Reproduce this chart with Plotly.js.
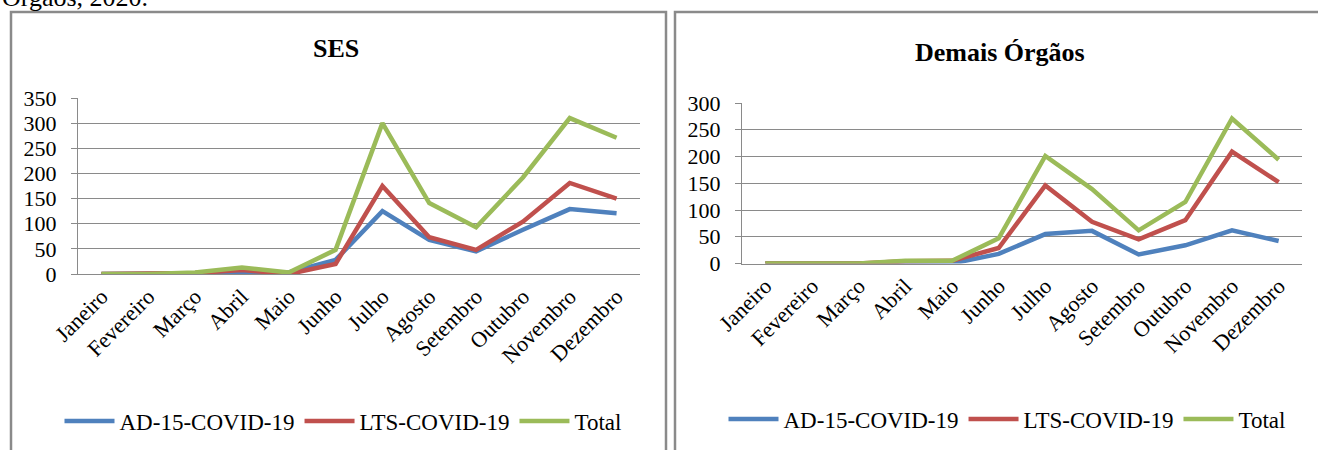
<!DOCTYPE html>
<html>
<head>
<meta charset="utf-8">
<script src="https://cdn.plot.ly/plotly-3.0.1.min.js"></script>
<style>
  html, body { margin: 0; padding: 0; background: #fff; }
  #chart { width: 1318px; height: 450px; }
</style>
</head>
<body>
<div id="chart"></div>
<script>
// ---- data ----
const months = ["Janeiro", "Fevereiro", "Março", "Abril", "Maio", "Junho", "Julho", "Agosto", "Setembro", "Outubro", "Novembro", "Dezembro"];
const seriesNames = ["AD-15-COVID-19", "LTS-COVID-19", "Total"];

const sesAD15 = [0, 0, 1, 5, 3, 28, 125, 68, 45, 88, 129, 121];
const sesLTS = [0, 0, 2, 8, 0, 20, 175, 73, 48, 104, 181, 150];
const sesTotal = [0, 0, 3, 13, 3, 48, 300, 141, 93, 192, 310, 271];

const demaisAD15 = [0, 0, 0, 1, 0, 18, 55, 61, 17, 34, 62, 42];
const demaisLTS = [0, 0, 0, 4, 5, 29, 146, 78, 45, 81, 209, 152];
const demaisTotal = [0, 0, 0, 5, 5, 47, 201, 139, 62, 115, 271, 194];

const sesTicks = [0, 50, 100, 150, 200, 250, 300, 350];
const demaisTicks = [0, 50, 100, 150, 200, 250, 300];

const titles = ["SES", "Demais Órgãos"];
const captionTail = "Órgãos, 2020.";

// ---- styles ----
const W = 1318, H = 450;
const colors = ["#4F81BD", "#C0504D", "#9BBB59"];
const serif = "Liberation Serif, Times New Roman, serif";
const gridColor = "#8a8a8a";
const fs = 22;
const px = v => v / W;
const py = v => 1 - v / H;

function mk(name, y, i, xa, ya, leg) {
  return {
    x: months, y: y, name: name, type: "scatter", mode: "lines",
    xaxis: xa, yaxis: ya, legend: leg,
    line: { color: colors[i], width: 4.5 },
    hoverinfo: "skip"
  };
}

const traces = [
  mk(seriesNames[0], sesAD15, 0, "x", "y", "legend"),
  mk(seriesNames[1], sesLTS, 1, "x", "y", "legend"),
  mk(seriesNames[2], sesTotal, 2, "x", "y", "legend"),
  mk(seriesNames[0], demaisAD15, 0, "x2", "y2", "legend2"),
  mk(seriesNames[1], demaisLTS, 1, "x2", "y2", "legend2"),
  mk(seriesNames[2], demaisTotal, 2, "x2", "y2", "legend2")
];

function xAxis(domain, anchor) {
  return {
    domain: domain, anchor: anchor, type: "category",
    range: [-0.5, months.length - 0.5],
    tickangle: -45, showgrid: false, zeroline: false,
    showline: true, linecolor: gridColor, linewidth: 1,
    ticks: "", fixedrange: true,
    tickfont: { family: serif, size: fs, color: "#000" }
  };
}
function yAxis(domain, anchor, ticks) {
  return {
    domain: domain, anchor: anchor,
    range: [0, ticks[ticks.length - 1]],
    tickmode: "array", tickvals: ticks, ticktext: ticks.map(String),
    showgrid: true, gridcolor: gridColor, gridwidth: 1,
    zeroline: false, showline: true, linecolor: gridColor, linewidth: 1,
    ticks: "outside", ticklen: 6, tickcolor: gridColor,
    ticklabelstandoff: 10, fixedrange: true,
    tickfont: { family: serif, size: fs, color: "#000" }
  };
}

const legendBase = {
  orientation: "h", xanchor: "center", yanchor: "middle",
  font: { family: serif, size: 23, color: "#000" },
  itemwidth: 50, tracegroupgap: 0, bgcolor: "rgba(0,0,0,0)"
};

const layout = {
  width: W, height: H,
  margin: { l: 0, r: 0, t: 0, b: 0 },
  paper_bgcolor: "#fff", plot_bgcolor: "#fff",
  showlegend: true,
  xaxis: xAxis([px(78), px(640)], "y"),
  yaxis: yAxis([py(274), py(98)], "x", sesTicks),
  xaxis2: xAxis([px(742), px(1302)], "y2"),
  yaxis2: yAxis([py(263.5), py(103)], "x2", demaisTicks),
  legend: Object.assign({}, legendBase, { x: px(343), y: py(421) }),
  legend2: Object.assign({}, legendBase, { x: px(1007), y: py(419) }),
  shapes: [
    { type: "rect", xref: "paper", yref: "paper",
      x0: px(11), x1: px(666), y0: -0.2, y1: py(12),
      line: { color: "#8a8a8a", width: 2.5 }, layer: "below" },
    { type: "rect", xref: "paper", yref: "paper",
      x0: px(675), x1: px(1330), y0: -0.2, y1: py(12),
      line: { color: "#8a8a8a", width: 2.5 }, layer: "below" }
  ],
  annotations: [
    { text: "<b>" + titles[0] + "</b>", xref: "paper", yref: "paper",
      x: px(336), y: py(48), xanchor: "center", yanchor: "middle", showarrow: false,
      font: { family: serif, size: 26, color: "#000" } },
    { text: "<b>" + titles[1] + "</b>", xref: "paper", yref: "paper",
      x: px(1000), y: py(53), xanchor: "center", yanchor: "middle", showarrow: false,
      font: { family: serif, size: 26, color: "#000" } },
    { text: captionTail, xref: "paper", yref: "paper",
      x: px(0), y: py(14), xanchor: "left", yanchor: "bottom", showarrow: false,
      font: { family: serif, size: 26, color: "#000" } }
  ]
};

Plotly.newPlot("chart", traces, layout, { staticPlot: true, displayModeBar: false });
</script>
</body>
</html>
